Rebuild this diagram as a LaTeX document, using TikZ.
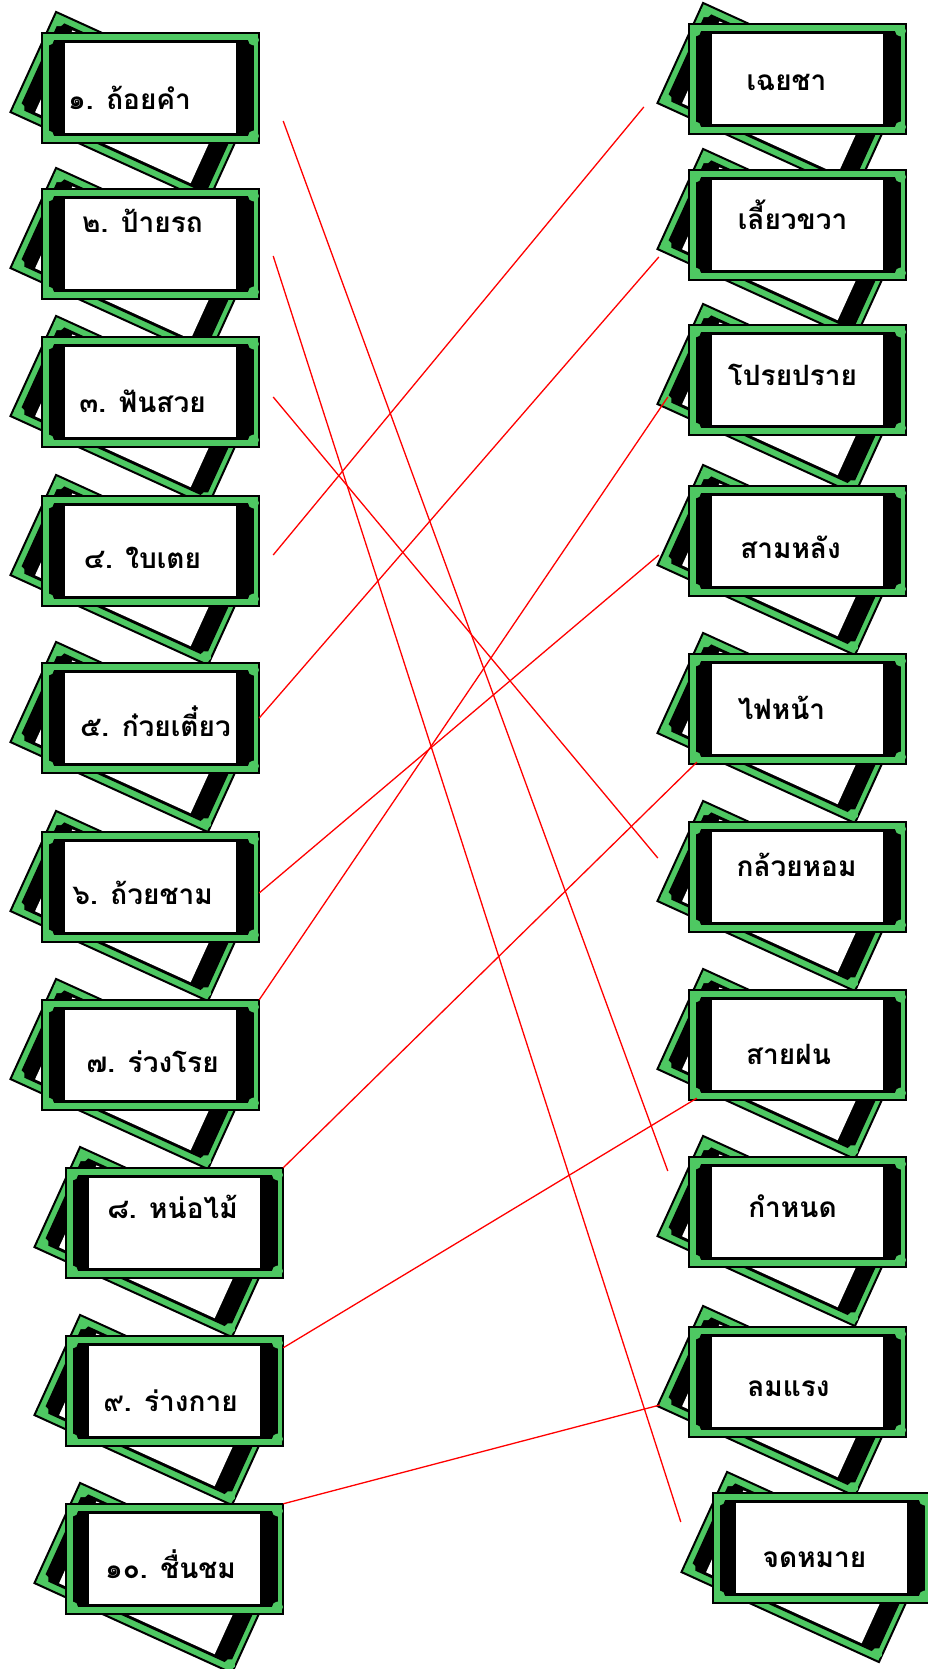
\documentclass[tikz,border=0pt]{standalone}
\usepackage{fontspec}
\newfontfamily\thaifont[Script=Thai]{Loma}
\definecolor{cardgreen}{RGB}{78,200,98}
\tikzset{
  cardface/.pic={
    \fill[cardgreen,draw=black,line width=2pt] (-108.5,-55) rectangle (108.5,55);
    \fill[black] (-102,-48) rectangle (103,48);
    \foreach \cx/\cy in {-102/-48,103/-48,-102/48,103/48}
      \fill[cardgreen] (\cx,\cy) circle (5.5pt);
    \fill[white] (-86,-45) rectangle (85,45);
  },
  card/.pic={
    \begin{scope}[shift={(-18.5,19)},rotate=-24.5]
      \pic[transform shape] {cardface};
    \end{scope}
    \pic {cardface};
  },
  cardnode/.style={minimum width=217pt,minimum height=110pt,inner sep=0pt},
  cardtext/.style={anchor=base,font=\thaifont\bfseries\fontsize{28}{30}\selectfont},
  match/.style={red,line width=1.3pt}
}
\begin{document}
\begin{tikzpicture}[x=1pt,y=-1pt]
    \useasboundingbox (0,0) rectangle (928,1669);

    % left column
    \node[cardnode] (q1) at (150.5,88) {};
    \pic at (q1) {card};
    \node[cardtext] at ([shift={(-21,22)}]q1.center) {๑. ถ้อยคำ};
    \node[cardnode] (q2) at (150.5,244) {};
    \pic at (q2) {card};
    \node[cardtext] at ([shift={(-8,-11)}]q2.center) {๒. ป้ายรถ};
    \node[cardnode] (q3) at (150.5,392) {};
    \pic at (q3) {card};
    \node[cardtext] at ([shift={(-8,20)}]q3.center) {๓. ฟันสวย};
    \node[cardnode] (q4) at (150.5,551) {};
    \pic at (q4) {card};
    \node[cardtext] at ([shift={(-8,17)}]q4.center) {๔. ใบเตย};
    \node[cardnode] (q5) at (150.5,718) {};
    \pic at (q5) {card};
    \node[cardtext] at ([shift={(5,18)}]q5.center) {๕. ก๋วยเตี๋ยว};
    \node[cardnode] (q6) at (150.5,887) {};
    \pic at (q6) {card};
    \node[cardtext] at ([shift={(-8,17)}]q6.center) {๖. ถ้วยชาม};
    \node[cardnode] (q7) at (150.5,1055) {};
    \pic at (q7) {card};
    \node[cardtext] at ([shift={(2,17)}]q7.center) {๗. ร่วงโรย};
    \node[cardnode] (q8) at (174.5,1223) {};
    \pic at (q8) {card};
    \node[cardtext] at ([shift={(-2,-5)}]q8.center) {๘. หน่อไม้};
    \node[cardnode] (q9) at (174.5,1391) {};
    \pic at (q9) {card};
    \node[cardtext] at ([shift={(-4,20)}]q9.center) {๙. ร่างกาย};
    \node[cardnode] (q10) at (174.5,1559) {};
    \pic at (q10) {card};
    \node[cardtext] at ([shift={(-4,19)}]q10.center) {๑๐. ชื่นชม};

    % right column
    \node[cardnode] (a1) at (797.5,79) {};
    \pic at (a1) {card};
    \node[cardtext] at ([shift={(-11,12)}]a1.center) {เฉยชา};
    \node[cardnode] (a2) at (797.5,225) {};
    \pic at (a2) {card};
    \node[cardtext] at ([shift={(-5,5)}]a2.center) {เลี้ยวขวา};
    \node[cardnode] (a3) at (797.5,380) {};
    \pic at (a3) {card};
    \node[cardtext] at ([shift={(-5,5)}]a3.center) {โปรยปราย};
    \node[cardnode] (a4) at (797.5,541) {};
    \pic at (a4) {card};
    \node[cardtext] at ([shift={(-7,17)}]a4.center) {สามหลัง};
    \node[cardnode] (a5) at (797.5,709) {};
    \pic at (a5) {card};
    \node[cardtext] at ([shift={(-16,10)}]a5.center) {ไฟหน้า};
    \node[cardnode] (a6) at (797.5,877) {};
    \pic at (a6) {card};
    \node[cardtext] at ([shift={(-1,-1)}]a6.center) {กล้วยหอม};
    \node[cardnode] (a7) at (797.5,1045) {};
    \pic at (a7) {card};
    \node[cardtext] at ([shift={(-9,19)}]a7.center) {สายฝน};
    \node[cardnode] (a8) at (797.5,1212) {};
    \pic at (a8) {card};
    \node[cardtext] at ([shift={(-5,5)}]a8.center) {กำหนด};
    \node[cardnode] (a9) at (797.5,1382) {};
    \pic at (a9) {card};
    \node[cardtext] at ([shift={(-9,14)}]a9.center) {ลมแรง};
    \node[cardnode] (a10) at (821.5,1548) {};
    \pic at (a10) {card};
    \node[cardtext] at ([shift={(-7,19)}]a10.center) {จดหมาย};

    % matching lines
    \draw[match] ([shift={(24,33)}]q1.east) -- ([shift={(-21,-41)}]a8.west);
    \draw[match] ([shift={(14,12)}]q2.east) -- ([shift={(-32,-26)}]a10.west);
    \draw[match] ([shift={(14,5)}]q3.east) -- ([shift={(-31,-19)}]a6.west);
    \draw[match] ([shift={(14,4)}]q4.east) -- ([shift={(-45,28)}]a1.west);
    \draw[match] (q5.east) -- ([shift={(-30,32)}]a2.west);
    \draw[match] ([shift={(0,6)}]q6.east) -- ([shift={(-30,14)}]a4.west);
    \draw[match] (q7.north east) -- ([shift={(-21,17)}]a3.west);
    \draw[match] (q8.north east) -- ([shift={(8,-2)}]a5.south west);
    \draw[match] ([shift={(0,12)}]q9.north east) -- ([shift={(8,-2)}]a7.south west);
    \draw[match] (q10.north east) -- ([shift={(-29,23)}]a9.west);
\end{tikzpicture}
\end{document}
